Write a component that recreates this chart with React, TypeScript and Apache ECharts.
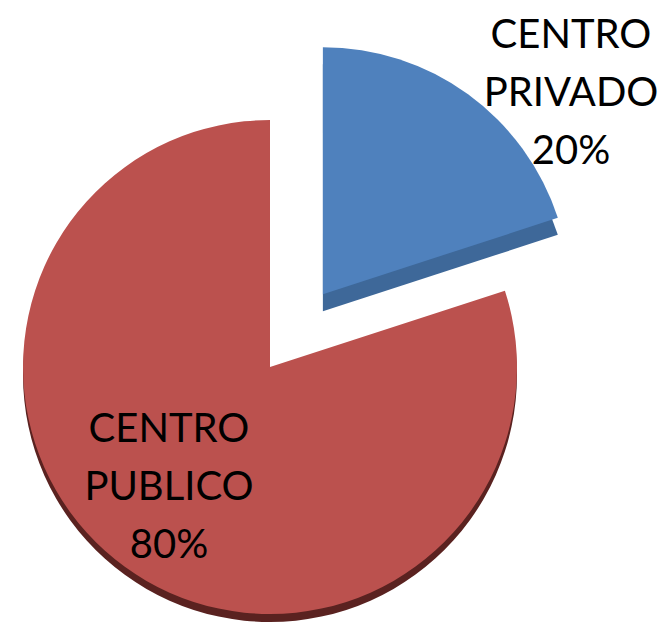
import React, { useEffect, useRef } from "react";
import * as echarts from "echarts";

const categories = ["CENTRO PRIVADO", "CENTRO PUBLICO"];
const values = [20, 80];
const topColors = ["#4f81bd", "#bb514e"];
const sideColors = ["#3e6899", "#5a2220"];

const labelPos = [
  { x: 571, y: 91 },
  { x: 169, y: 485 },
];

export default function App() {
  const ref = useRef<HTMLDivElement>(null);
  useEffect(() => {
    if (!ref.current) return;
    const chart = echarts.init(ref.current, null, { renderer: "svg" });
    const R = 247;
    const cx = 270;
    const cy = 367;
    const explode = 90;
    const total = values.reduce((a, b) => a + b, 0);
    // mid-angle of the exploded (first) slice, degrees counter-clockwise from east
    const mid = ((90 - (360 * values[0]) / total / 2) * Math.PI) / 180;
    const centers = [
      [cx + explode * Math.cos(mid), cy - explode * Math.sin(mid)],
      [cx, cy],
    ];
    const depth = [17, 8];

    const makeSeries = (which: number, side: boolean) => ({
      type: "pie",
      silent: true,
      radius: R,
      center: [centers[which][0], centers[which][1] + (side ? depth[which] : 0)],
      startAngle: 90,
      clockwise: true,
      z: side ? 1 : 3,
      emphasis: { disabled: true },
      itemStyle: { borderWidth: 0 },
      label: side
        ? { show: false }
        : {
            show: true,
            position: "inside",
            overflow: "none",
            fontFamily: "Lato",
            fontSize: 40,
            lineHeight: 58,
            color: "#000000",
            align: "center",
            formatter: (p: any) =>
              p.dataIndex === which
                ? p.name.replace(" ", "\n") + "\n" + Math.round(p.percent) + "%"
                : "",
          },
      labelLine: { show: false },
      labelLayout: side
        ? undefined
        : (p: any) =>
            p.dataIndex === which
              ? {
                  x: labelPos[which].x,
                  y: labelPos[which].y,
                  align: "center",
                  verticalAlign: "middle",
                }
              : {},
      data: categories.map((name, i) => ({
        name,
        value: values[i],
        itemStyle: {
          color:
            i === which ? (side ? sideColors[i] : topColors[i]) : "rgba(0,0,0,0)",
        },
      })),
    });

    chart.setOption({
      animation: false,
      backgroundColor: "#ffffff",
      series: [
        makeSeries(1, true),
        makeSeries(0, true),
        makeSeries(1, false),
        makeSeries(0, false),
      ],
    });
    return () => chart.dispose();
  }, []);
  return (
    <div
      ref={ref}
      style={{ position: "fixed", left: 0, top: 0, width: 664, height: 624 }}
    />
  );
}
